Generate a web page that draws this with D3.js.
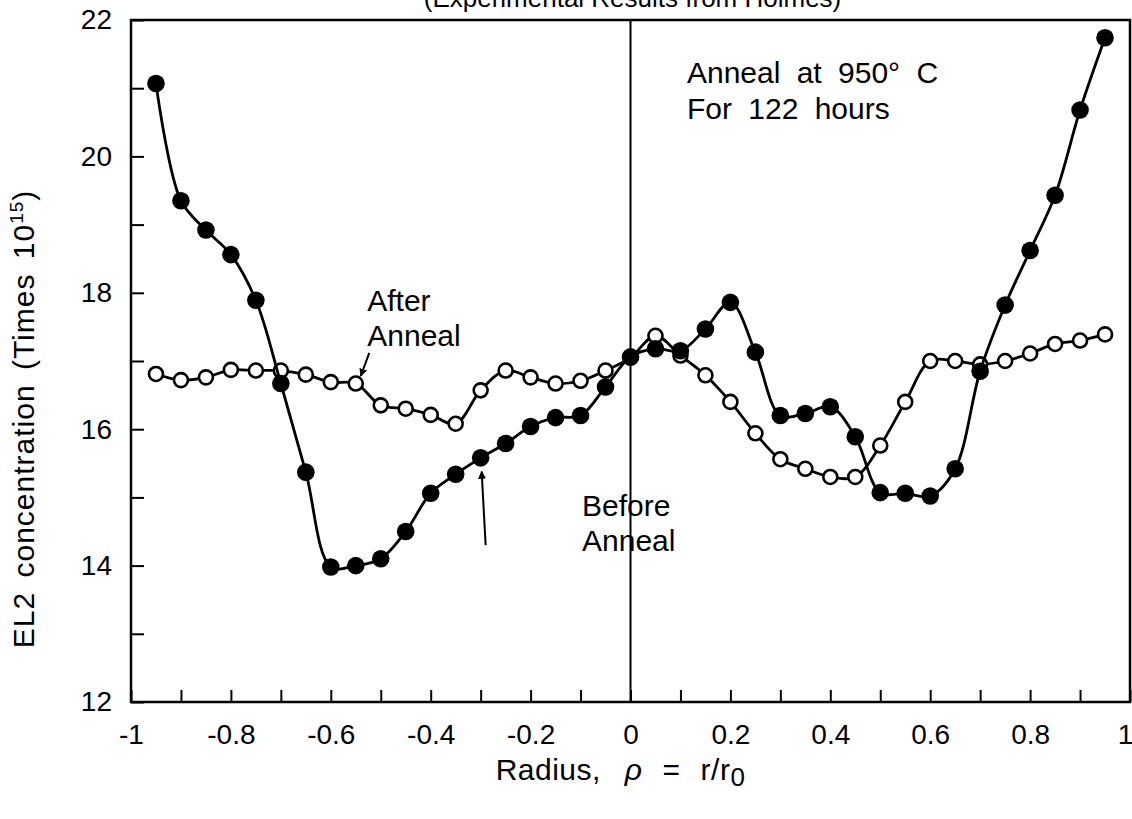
<!DOCTYPE html>
<html>
<head>
<meta charset="utf-8">
<script src="https://cdn.jsdelivr.net/npm/d3@7"></script>
<style>
  body { margin: 0; background: #fff; }
  text { font-family: "Liberation Sans", Arial, Helvetica, sans-serif; fill: #000; }
</style>
</head>
<body>
<script>
// radius positions (rho = r/r0)
const radius = [
  -0.95, -0.9, -0.85, -0.8, -0.75, -0.7, -0.65, -0.6, -0.55, -0.5,
  -0.45, -0.4, -0.35, -0.3, -0.25, -0.2, -0.15, -0.1, -0.05, 0,
  0.05, 0.1, 0.15, 0.2, 0.25, 0.3, 0.35, 0.4, 0.45, 0.5,
  0.55, 0.6, 0.65, 0.7, 0.75, 0.8, 0.85, 0.9, 0.95
];

// EL2 concentration (x 10^15), filled dots
const beforeAnneal = [
  21.07, 19.35, 18.92, 18.56, 17.89, 16.67, 15.37, 13.98, 14.0, 14.1,
  14.5, 15.06, 15.34, 15.58, 15.79, 16.04, 16.17, 16.2, 16.62, 17.06,
  17.18, 17.15, 17.47, 17.86, 17.13, 16.2, 16.23, 16.33, 15.89, 15.07,
  15.06, 15.02, 15.42, 16.85, 17.82, 18.62, 19.43, 20.68, 21.74
];

// open circles
const afterAnneal = [
  16.81, 16.72, 16.76, 16.87, 16.86, 16.86, 16.8, 16.69, 16.67, 16.35,
  16.3, 16.21, 16.08, 16.57, 16.86, 16.76, 16.67, 16.71, 16.86, 17.05,
  17.37, 17.08, 16.79, 16.4, 15.94, 15.56, 15.42, 15.3, 15.3, 15.76,
  16.4, 17.0, 17.0, 16.95, 17.0, 17.11, 17.25, 17.3, 17.39
];

const yTicks = [12, 13, 14, 15, 16, 17, 18, 19, 20, 21, 22];
const xTicks = d3.range(-10, 11).map((i) => i / 10);

const W = 1132, H = 819;
const margin = { top: 20, right: 2, bottom: 117, left: 131 };

const svg = d3.select("body").append("svg")
  .attr("width", W)
  .attr("height", H);

const x = d3.scaleLinear().domain([-1, 1]).range([margin.left, W - margin.right]);
const y = d3.scaleLinear().domain([12, 22]).range([H - margin.bottom, margin.top]);

// arrow head
svg.append("defs").append("marker")
  .attr("id", "head")
  .attr("viewBox", "0 0 10 10")
  .attr("refX", 9).attr("refY", 5)
  .attr("markerWidth", 4).attr("markerHeight", 5)
  .attr("orient", "auto")
  .append("path").attr("d", "M0,0 L10,5 L0,10 Z").attr("fill", "#000");

// title, cut off at the top of the scan
svg.append("text")
  .attr("x", x(0) + 2).attr("y", 7)
  .attr("text-anchor", "middle")
  .style("font-size", "26px")
  .text("(Experimental Results from Holmes)");

// axes
const fmtX = (d) => {
  const k = Math.round(d * 10);
  return k % 2 === 0 ? String(k / 10) : "";
};

const xAxis = svg.append("g")
  .attr("transform", `translate(0,${y(12)})`)
  .call(d3.axisBottom(x).tickValues(xTicks).tickSize(-12).tickPadding(22).tickFormat(fmtX));
xAxis.select(".domain").remove();
xAxis.selectAll("line").attr("stroke", "#000").attr("stroke-width", 2);
xAxis.selectAll("text").style("font-size", "28px").attr("font-family", null)
  .filter((d) => d === 1).attr("dx", -5);

const yAxis = svg.append("g")
  .attr("transform", `translate(${x(-1)},0)`)
  .call(d3.axisLeft(y).tickValues(yTicks).tickSize(-13).tickPadding(19)
    .tickFormat((d) => (d % 2 === 0 ? d : "")));
yAxis.select(".domain").remove();
yAxis.selectAll("line").attr("stroke", "#000").attr("stroke-width", 2);
yAxis.selectAll("text").style("font-size", "28px").attr("font-family", null);

// frame + centre line
svg.append("rect")
  .attr("x", x(-1)).attr("y", y(22))
  .attr("width", x(1) - x(-1)).attr("height", y(12) - y(22))
  .attr("fill", "none").attr("stroke", "#000").attr("stroke-width", 2.5);

svg.append("line")
  .attr("x1", x(0)).attr("x2", x(0))
  .attr("y1", y(22)).attr("y2", y(12))
  .attr("stroke", "#000").attr("stroke-width", 2);

// axis titles
svg.append("text")
  .attr("transform", `translate(34,${y(16.15)}) rotate(-90)`)
  .attr("text-anchor", "middle")
  .style("font-size", "30px")
  .style("letter-spacing", "1px")
  .style("word-spacing", "5px")
  .text("EL2 concentration (Times 10")
  .append("tspan").attr("dy", -11).style("font-size", "19px").text("15")
  .clone().attr("dy", 11).style("font-size", "30px").text(")");

const xt = svg.append("text")
  .attr("x", x(-0.02)).attr("y", 780)
  .attr("text-anchor", "middle")
  .style("font-size", "30px")
  .style("letter-spacing", "0.5px");
xt.append("tspan").text("Radius,");
xt.append("tspan").attr("dx", 24).style("font-style", "italic").text("ρ");
xt.append("tspan").attr("dx", 20).text("=");
xt.append("tspan").attr("dx", 20).text("r/r");
xt.append("tspan").attr("dy", 6).style("font-size", "26px").text("0");

// series
const line = d3.line()
  .x((d) => x(d[0]))
  .y((d) => y(d[1]))
  .curve(d3.curveCatmullRom.alpha(0.5));

const afterPts = radius.map((r, i) => [r, afterAnneal[i]]);
const beforePts = radius.map((r, i) => [r, beforeAnneal[i]]);

svg.append("path").datum(afterPts)
  .attr("d", line).attr("fill", "none").attr("stroke", "#000").attr("stroke-width", 2.8);
svg.append("g").selectAll("circle").data(afterPts).join("circle")
  .attr("cx", (d) => x(d[0])).attr("cy", (d) => y(d[1]))
  .attr("r", 7).attr("fill", "#fff").attr("stroke", "#000").attr("stroke-width", 2.6);

svg.append("path").datum(beforePts)
  .attr("d", line).attr("fill", "none").attr("stroke", "#000").attr("stroke-width", 2.8);
svg.append("g").selectAll("circle").data(beforePts).join("circle")
  .attr("cx", (d) => x(d[0])).attr("cy", (d) => y(d[1]))
  .attr("r", 8.8).attr("fill", "#000");

// annotations
const note = (xv, yv, lines, size) => {
  const t = svg.append("text").attr("x", x(xv)).attr("y", y(yv))
    .style("font-size", size + "px").style("word-spacing", "8px");
  lines.forEach((s, i) => t.append("tspan").attr("x", x(xv)).attr("dy", i ? size * 1.17 : 0).text(s));
};
note(0.113, 21.07, ["Anneal at 950° C", "For 122 hours"], 30);
note(-0.527, 17.74, ["After", "Anneal"], 30);
note(-0.097, 14.73, ["Before", "Anneal"], 30);

const arrow = (a, b) => svg.append("line")
  .attr("x1", x(a[0])).attr("y1", y(a[1]))
  .attr("x2", x(b[0])).attr("y2", y(b[1]))
  .attr("stroke", "#000").attr("stroke-width", 2)
  .attr("marker-end", "url(#head)");
arrow([-0.523, 17.12], [-0.54, 16.78]);
arrow([-0.29, 14.3], [-0.298, 15.38]);
</script>
</body>
</html>
